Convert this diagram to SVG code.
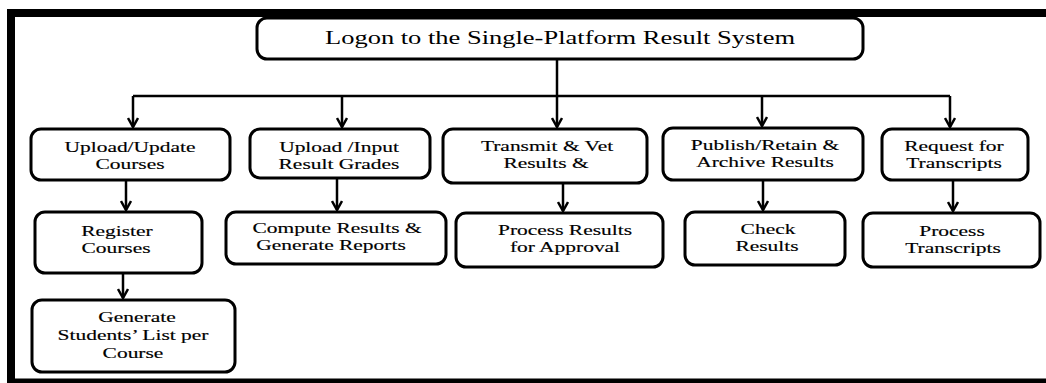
<svg xmlns="http://www.w3.org/2000/svg" width="1046" height="383" viewBox="0 0 1046 383">
<style>
.box{fill:#fff;stroke:#000;stroke-width:3}
.lbl{font-family:"Liberation Serif","Times New Roman",serif;font-size:14.5px;fill:#000;text-anchor:middle;stroke:#000;stroke-width:0.15}
.title{font-family:"Liberation Serif","Times New Roman",serif;font-size:19px;fill:#000;text-anchor:middle}
.c{fill:none;stroke:#000;stroke-width:2.5}
.frame{fill:#000}
</style>
<defs>
<marker id="ah" viewBox="0 0 12 12" refX="10" refY="6" markerWidth="12" markerHeight="12" markerUnits="userSpaceOnUse" orient="auto">
<path d="M1,1 L10,6 L1,11" fill="none" stroke="#000" stroke-width="2.5"/>
</marker>
</defs>
<rect width="1046" height="383" fill="#fff"/>
<g id="frame">
<rect class="frame" x="7" y="9" width="1039" height="8"/>
<rect class="frame" x="7" y="9" width="8" height="374"/>
<rect class="frame" x="7" y="378.5" width="1039" height="4.5"/>
</g>
<g id="connectors">
<path class="c" d="M557,59 V96"/>
<path class="c" d="M133,96 H950"/>
<path class="c" marker-end="url(#ah)" d="M133,96 V127"/>
<path class="c" marker-end="url(#ah)" d="M342,96 V127"/>
<path class="c" marker-end="url(#ah)" d="M557,96 V127"/>
<path class="c" marker-end="url(#ah)" d="M762,96 V126"/>
<path class="c" marker-end="url(#ah)" d="M950,96 V127"/>
<path class="c" marker-end="url(#ah)" d="M126,180 V210"/>
<path class="c" marker-end="url(#ah)" d="M337,178 V210"/>
<path class="c" marker-end="url(#ah)" d="M563,183 V211"/>
<path class="c" marker-end="url(#ah)" d="M763,180 V210"/>
<path class="c" marker-end="url(#ah)" d="M953,180 V211"/>
<path class="c" marker-end="url(#ah)" d="M123,273 V298"/>
</g>
<g id="logon">
<rect class="box" x="257" y="18" width="606" height="41" rx="10"/>
<text class="title" x="560" y="44" textLength="470" lengthAdjust="spacingAndGlyphs">Logon to the Single-Platform Result System</text>
</g>
<g id="upload-courses">
<rect class="box" x="31" y="129" width="199" height="51" rx="10"/>
<text class="lbl" transform="translate(130,152) scale(1.48,1)">Upload/Update</text>
<text class="lbl" transform="translate(130,169) scale(1.48,1)">Courses</text>
</g>
<g id="upload-grades">
<rect class="box" x="250" y="129" width="180" height="49" rx="10"/>
<text class="lbl" transform="translate(339,152) scale(1.48,1)">Upload /Input</text>
<text class="lbl" transform="translate(339,169) scale(1.48,1)">Result Grades</text>
</g>
<g id="transmit">
<rect class="box" x="443" y="129" width="204" height="54" rx="10"/>
<text class="lbl" transform="translate(547,151) scale(1.48,1)">Transmit &amp; Vet</text>
<text class="lbl" transform="translate(546,168) scale(1.48,1)">Results &amp;</text>
</g>
<g id="publish">
<rect class="box" x="663" y="128" width="200" height="52" rx="10"/>
<text class="lbl" transform="translate(765,150) scale(1.48,1)">Publish/Retain &amp;</text>
<text class="lbl" transform="translate(765,167) scale(1.48,1)">Archive Results</text>
</g>
<g id="request">
<rect class="box" x="882" y="129" width="146" height="51" rx="10"/>
<text class="lbl" transform="translate(954,151) scale(1.48,1)">Request for</text>
<text class="lbl" transform="translate(954,168) scale(1.48,1)">Transcripts</text>
</g>
<g id="register">
<rect class="box" x="35" y="212" width="167" height="61" rx="10"/>
<text class="lbl" transform="translate(117,236) scale(1.48,1)">Register</text>
<text class="lbl" transform="translate(116,253) scale(1.48,1)">Courses</text>
</g>
<g id="compute">
<rect class="box" x="226" y="212" width="220" height="52" rx="10"/>
<text class="lbl" transform="translate(337,233) scale(1.48,1)">Compute Results &amp;</text>
<text class="lbl" transform="translate(331,250) scale(1.48,1)">Generate Reports</text>
</g>
<g id="process-approval">
<rect class="box" x="456" y="213" width="207" height="54" rx="10"/>
<text class="lbl" transform="translate(565,235) scale(1.48,1)">Process Results</text>
<text class="lbl" transform="translate(565,252) scale(1.48,1)">for Approval</text>
</g>
<g id="check">
<rect class="box" x="685" y="212" width="160" height="53" rx="10"/>
<text class="lbl" transform="translate(768,234) scale(1.48,1)">Check</text>
<text class="lbl" transform="translate(767,251) scale(1.48,1)">Results</text>
</g>
<g id="process-transcripts">
<rect class="box" x="863" y="213" width="177" height="54" rx="10"/>
<text class="lbl" transform="translate(952,236) scale(1.48,1)">Process</text>
<text class="lbl" transform="translate(953,253) scale(1.48,1)">Transcripts</text>
</g>
<g id="generate-list">
<rect class="box" x="32" y="300" width="203" height="72" rx="10"/>
<text class="lbl" transform="translate(137,322) scale(1.48,1)">Generate</text>
<text class="lbl" transform="translate(133,340) scale(1.48,1)">Students’ List per</text>
<text class="lbl" transform="translate(133,358) scale(1.48,1)">Course</text>
</g>
</svg>
